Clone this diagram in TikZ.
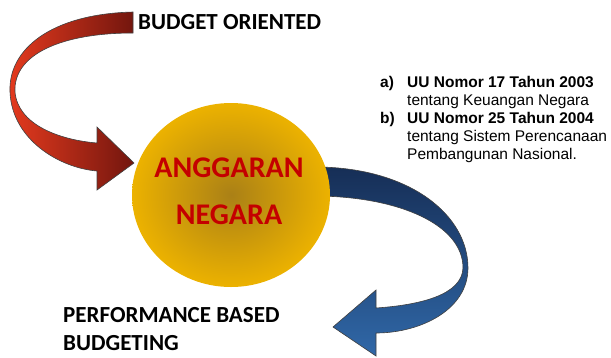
\documentclass[tikz,border=0pt]{standalone}
\usepackage{fontspec}
\setmainfont{Carlito}
\newfontfamily\arialfont{Liberation Sans}
\usetikzlibrary{shapes.geometric,positioning}

\definecolor{gold}{RGB}{236,178,0}
\definecolor{circin}{RGB}{170,128,22}
\definecolor{textred}{RGB}{196,0,0}
\definecolor{redlight}{RGB}{228,58,30}
\definecolor{reddark}{RGB}{115,22,14}
\definecolor{bluedark}{RGB}{22,46,86}
\definecolor{bluelight}{RGB}{48,104,168}

\begin{document}
\begin{tikzpicture}[x=1pt, y=-1pt,
    title/.style={inner sep=0pt, font=\bfseries\fontsize{23}{28}\selectfont, align=left},
    ribbon/.style={draw=black!75, line width=0.6pt},
    circ/.style={ellipse, minimum width=198pt, minimum height=184pt, inner sep=0pt, shading=radial, inner color=circin, outer color=gold},
    circtext/.style={inner sep=0pt, text=textred, font=\bfseries\fontsize{30}{47}\selectfont, align=center},
    legal/.style={inner sep=0pt, font=\arialfont\fontsize{15.5}{18}\selectfont}
]
\useasboundingbox (0,0) rectangle (611,357);

% red arrow: budget oriented -> anggaran
\draw[ribbon, left color=redlight, right color=reddark]
    (133,12) .. controls (50,14) and (8,50) .. (10,92)
    .. controls (12,140) and (60,168) .. (97,171)
    -- (97,190) -- (134,163) -- (97,127) -- (97,143)
    .. controls (60,140) and (18,125) .. (15,92)
    .. controls (13,55) and (60,33) .. (133,33) -- cycle;

% blue arrow: anggaran -> performance based
\draw[ribbon, top color=bluedark, bottom color=bluelight]
    (318,167) .. controls (410,168) and (468,215) .. (468,268)
    .. controls (468,310) and (420,333) .. (376,333)
    -- (376,356) -- (333,327) -- (376,290) -- (376,308)
    .. controls (420,305) and (462,295) .. (463,268)
    .. controls (463,225) and (400,197) .. (318,196) -- cycle;

\node[circ] (anggaran) at (231,195) {};
\node[circtext] (anggarantext) at (229,191) {ANGGARAN\\NEGARA};

\node[title, anchor=base west] (budget) at (138,29) {BUDGET ORIENTED};
\node[title, anchor=north west] (performance) at (63,307) {PERFORMANCE BASED\\BUDGETING};

\node[legal, anchor=north west] (uu) at (380,74.4) {%
  \begin{tabular}{@{}p{27pt}@{}l@{}}
  \textbf{a)} & \textbf{UU Nomor 17 Tahun 2003}\\
              & tentang Keuangan Negara\\
  \textbf{b)} & \textbf{UU Nomor 25 Tahun 2004}\\
              & tentang Sistem Perencanaan\\
              & Pembangunan Nasional.
  \end{tabular}};
\end{tikzpicture}
\end{document}
